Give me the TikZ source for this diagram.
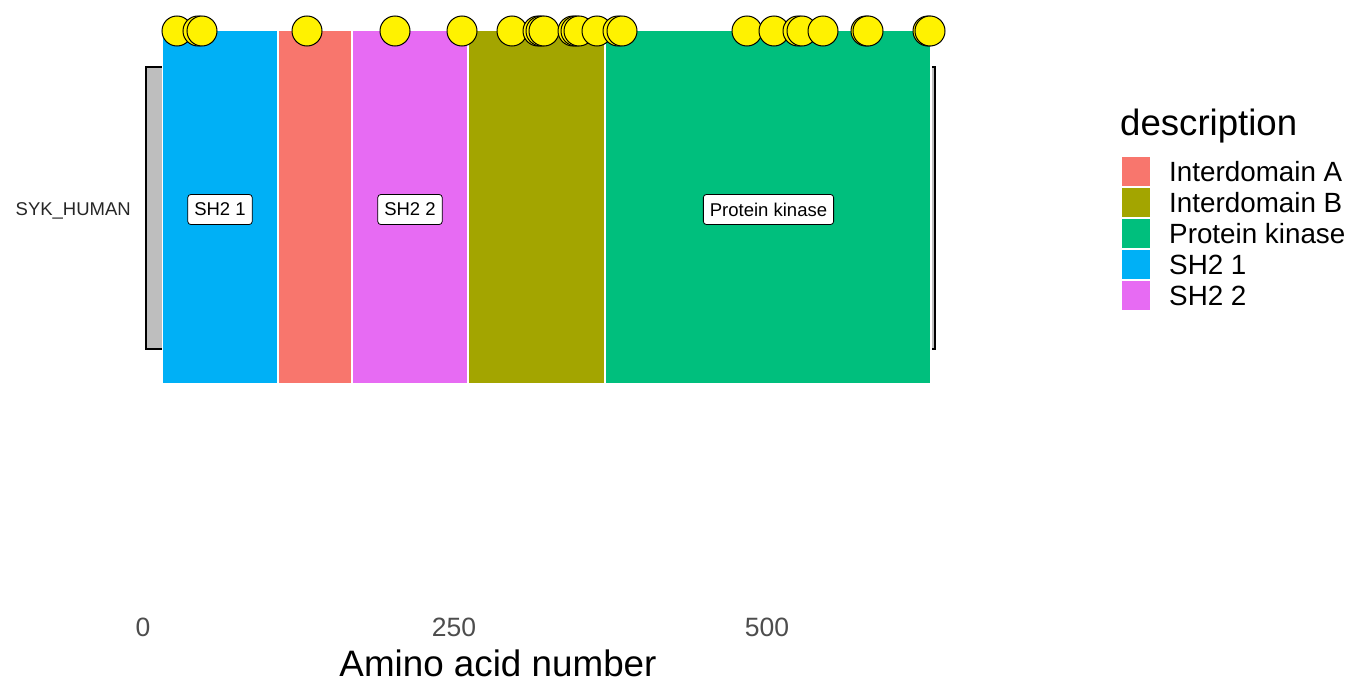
\documentclass[tikz,border=0pt]{standalone}
\usepackage{fontspec}
\setmainfont{Liberation Sans}
\definecolor{cA}{HTML}{F8766D}
\definecolor{cB}{HTML}{A3A500}
\definecolor{cK}{HTML}{00BF7D}
\definecolor{cS1}{HTML}{00B0F6}
\definecolor{cS2}{HTML}{E76BF3}
\definecolor{axgrey}{HTML}{4D4D4D}
\definecolor{bargrey}{HTML}{BEBEBE}
\begin{document}
\begin{tikzpicture}[x=1pt,y=-1pt,
  dombox/.style={draw=white,line width=1.5pt},
  lab/.style={draw=black,fill=white,rounded corners=3pt,line width=0.8pt,inner xsep=6.5pt,inner ysep=0pt,minimum height=30pt,font=\fontsize{18.5pt}{22pt}\selectfont},
  site/.style={circle,draw=black,fill=yellow,line width=1pt,minimum size=30pt,inner sep=0pt},
  key/.style={minimum size=28.5pt,inner sep=0pt},
  legtext/.style={anchor=west,inner sep=0pt,font=\fontsize{27.8pt}{32pt}\selectfont},
  tick/.style={text=axgrey,inner sep=0pt,font=\fontsize{26.5pt}{30pt}\selectfont}]
\useasboundingbox (0,0) rectangle (1366,696);
% backbone
\draw[fill=bargrey,line width=1.5pt] (146,67) rectangle (935,349);
\node[anchor=east,inner sep=0pt,text=black!85,font=\fontsize{18.5pt}{22pt}\selectfont] (prot) at (131,211) {SYK\_HUMAN};
% domains
\path[dombox,fill=cS1] (162.5,30.5) rectangle (278,383.5);
\path[dombox,fill=cA] (278,30.5) rectangle (352,383.5);
\path[dombox,fill=cS2] (352,30.5) rectangle (468,383.5);
\path[dombox,fill=cB] (468,30.5) rectangle (605,383.5);
\path[dombox,fill=cK] (605,30.5) rectangle (931,383.5);
% labels
\node[lab] (l1) at (220,209.5) {SH2 1};
\node[lab] (l2) at (410,209.5) {SH2 2};
\node[lab] (l3) at (768.5,209.5) {Protein kinase};
% sites
\foreach \x [count=\i] in {177,198,202,307,395,462,512,538,541,544,573,576,579,597,618,622,747,774,798,802,823,866,868,928,930}
  \node[site] (s\i) at (\x,31) {};
% axis
\node[tick] (t0) at (143,627) {0};
\node[tick] (t1) at (454,627) {250};
\node[tick] (t2) at (767,627) {500};
\node[inner sep=0pt,font=\fontsize{36.8pt}{42pt}\selectfont] (xlab) at (498,663) {Amino acid number};
% legend
\node[anchor=base west,inner sep=0pt,font=\fontsize{36.6pt}{42pt}\selectfont] (legt) at (1120,135) {description};
\foreach \c/\t/\y [count=\i] in {cA/Interdomain A/171.5,cB/Interdomain B/202.5,cK/Protein kinase/233.5,cS1/SH2 1/264.5,cS2/SH2 2/295.5}{
  \node[key,fill=\c] (k\i) at (1136,\y) {};
  \node[legtext] (kt\i) at (1169,\y) {\t};
}
\end{tikzpicture}
\end{document}
